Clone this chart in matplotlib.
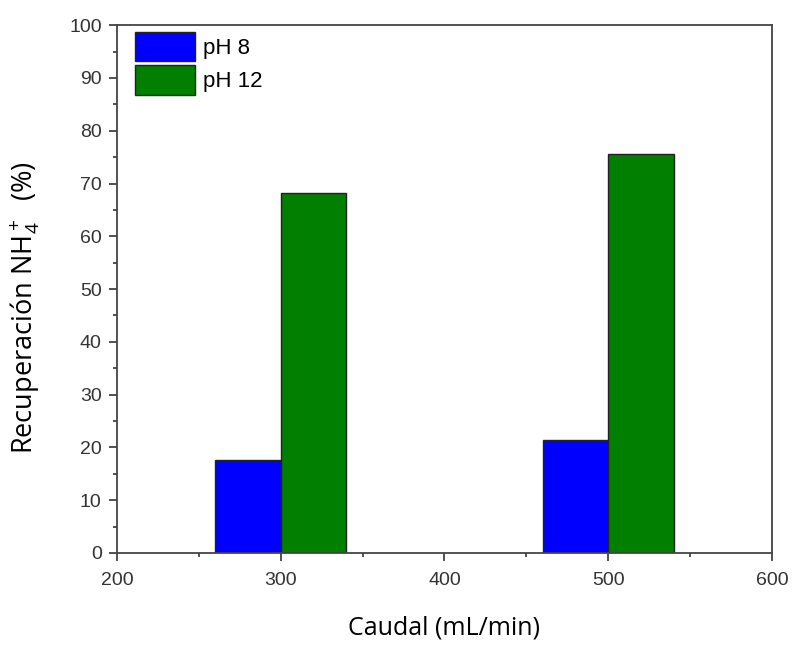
import numpy as np
import matplotlib
matplotlib.use("Agg")
import matplotlib.pyplot as plt
from matplotlib.ticker import MultipleLocator

# datos
caudal = [300, 500]
ph8 = [17.7, 21.5]
ph12 = [68.2, 75.6]
labels = ["pH 8", "pH 12"]

plt.rcParams['mathtext.default'] = 'regular'

fig = plt.figure(figsize=(7.92, 6.46), dpi=100)
ax = fig.add_axes([0.1477, 0.144, 0.8270, 0.817])

x = np.array(caudal)
w = 40
ax.bar(x - w / 2, ph8, width=w, color='#0000ff', edgecolor='#222222', linewidth=1.0, label=labels[0])
ax.bar(x + w / 2, ph12, width=w, color='#007f00', edgecolor='#222222', linewidth=1.0, label=labels[1])

ax.set_xlim(200, 600)
ax.set_ylim(0, 100)
ax.xaxis.set_major_locator(MultipleLocator(100))
ax.xaxis.set_minor_locator(MultipleLocator(50))
ax.yaxis.set_major_locator(MultipleLocator(10))
ax.yaxis.set_minor_locator(MultipleLocator(5))
ax.tick_params(which='major', direction='out', length=6, width=1.2, colors='#333333',
               labelsize=14, labelcolor='#333333')
ax.tick_params(which='minor', direction='out', length=3, width=1.2, colors='#333333')
ax.tick_params(axis='x', which='major', pad=8)
ax.tick_params(axis='y', which='major', pad=5)
for lab in ax.get_xticklabels() + ax.get_yticklabels():
    lab.set_fontfamily('Liberation Sans')
for s in ax.spines.values():
    s.set_linewidth(1.3)
    s.set_color('#444444')

ax.set_xlabel("Caudal (mL/min)", fontsize=18, family='Open Sans', labelpad=19)
ax.set_ylabel("Recuperación NH$_4^+$  (%)", fontsize=19.5, family='Open Sans')
ax.yaxis.set_label_coords(-0.115, 0.464)

ax.legend(loc='upper left', frameon=False, handlelength=2.7, handleheight=1.65,
          handletextpad=0.35, labelspacing=0.18, borderpad=0, borderaxespad=0,
          prop={'family': 'Liberation Sans', 'size': 16}, bbox_to_anchor=(0.0275, 0.987))

fig.savefig("out.png", dpi=100)
